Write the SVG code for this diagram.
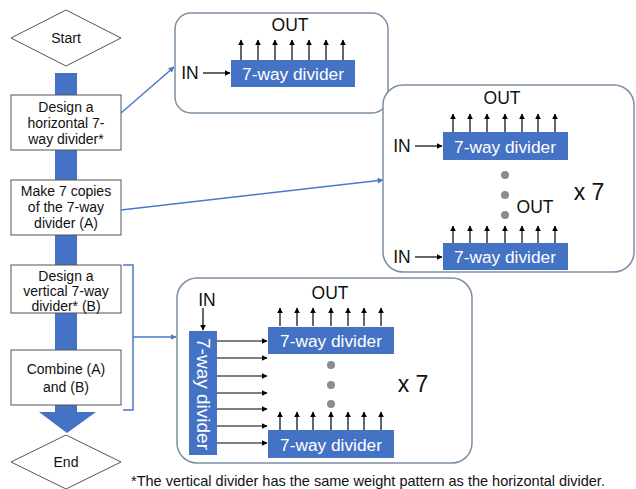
<svg xmlns="http://www.w3.org/2000/svg" width="636" height="489" viewBox="0 0 636 489">
<style>
.t{font-family:"Liberation Sans",Arial,sans-serif;fill:#111;text-anchor:middle;dominant-baseline:central}
.fc{font-size:14px}
.lbl{font-size:17.5px}
.w{font-family:"Liberation Sans",Arial,sans-serif;fill:#fff;font-size:17.3px;text-anchor:middle;dominant-baseline:central}
.box{fill:#fff;stroke:#555;stroke-width:1}
.panel{fill:#fff;stroke:#7d8ea3;stroke-width:1.5}
.blk{fill:#4472C4}
.ar{stroke:#000;stroke-width:1.2;fill:none;marker-end:url(#ah)}
.con{stroke:#4a78c8;stroke-width:1.5;fill:none}
.dot{fill:#8c8c8c}
</style>
<defs>
<marker id="ah" viewBox="0 0 10 10" refX="9" refY="5" markerWidth="5" markerHeight="5" orient="auto"><path d="M0,0 L10,5 L0,10 z" fill="#000"/></marker>
<marker id="ab" viewBox="0 0 10 10" refX="9" refY="5" markerWidth="4" markerHeight="4" orient="auto"><path d="M0,0 L10,5 L0,10 z" fill="#4a78c8"/></marker>
</defs>

<g id="flow-bar">
<rect x="55" y="73" width="22" height="340" class="blk"/>
<polygon points="39,412 96,412 67,433" class="blk"/>
</g>

<g id="start">
<polygon points="11,38 66,10 121,38 66,66" class="box"/>
<text x="66" y="38" class="t fc">Start</text>
</g>
<g id="step1">
<rect x="11" y="95" width="110" height="55" class="box"/>
<text class="t fc"><tspan x="66" y="107">Design a</tspan><tspan x="66" y="123">horizontal 7-</tspan><tspan x="66" y="139">way divider*</tspan></text>
</g>
<g id="step2">
<rect x="11" y="180" width="110" height="55" class="box"/>
<text class="t fc"><tspan x="66" y="191">Make 7 copies</tspan><tspan x="66" y="207">of the 7-way</tspan><tspan x="66" y="223">divider (A)</tspan></text>
</g>
<g id="step3">
<rect x="11" y="265" width="110" height="48" class="box"/>
<text class="t fc"><tspan x="66" y="276">Design a</tspan><tspan x="66" y="291">vertical 7-way</tspan><tspan x="66" y="306">divider* (B)</tspan></text>
</g>
<g id="step4">
<rect x="11" y="350" width="110" height="55" class="box"/>
<text class="t fc"><tspan x="66" y="369">Combine (A)</tspan><tspan x="66" y="387">and (B)</tspan></text>
</g>
<g id="end">
<polygon points="11,462 66,435 121,462 66,489" class="box"/>
<text x="66" y="462" class="t fc">End</text>
</g>

<g id="connectors">
<line x1="121" y1="113" x2="174" y2="67" class="con" marker-end="url(#ab)"/>
<line x1="121" y1="210" x2="383" y2="180" class="con" marker-end="url(#ab)"/>
<polyline points="123,265 133,265 133,410 123,410" class="con"/>
<line x1="133" y1="337" x2="176" y2="337" class="con" marker-end="url(#ab)"/>
</g>

<g id="panel1">
<rect x="175" y="13" width="213" height="100" rx="16" class="panel"/>
<text x="290" y="25" class="t lbl">OUT</text>
<g class="ar">
<line x1="241" y1="60" x2="241" y2="40"/><line x1="258" y1="60" x2="258" y2="40"/><line x1="275" y1="60" x2="275" y2="40"/><line x1="292" y1="60" x2="292" y2="40"/><line x1="309" y1="60" x2="309" y2="40"/><line x1="326" y1="60" x2="326" y2="40"/><line x1="343" y1="60" x2="343" y2="40"/>
<line x1="203" y1="73" x2="230" y2="73"/>
</g>
<rect x="231" y="60" width="124" height="27" class="blk"/>
<text x="293" y="73.5" class="w">7-way divider</text>
<text x="190" y="73" class="t lbl">IN</text>
</g>

<g id="panel2">
<rect x="383" y="85" width="251" height="187" rx="20" class="panel"/>
<text x="502" y="98" class="t lbl">OUT</text>
<g class="ar">
<line x1="453" y1="132" x2="453" y2="114"/><line x1="470" y1="132" x2="470" y2="114"/><line x1="487" y1="132" x2="487" y2="114"/><line x1="505" y1="132" x2="505" y2="114"/><line x1="522" y1="132" x2="522" y2="114"/><line x1="538" y1="132" x2="538" y2="114"/><line x1="555" y1="132" x2="555" y2="114"/>
<line x1="415" y1="146" x2="442" y2="146"/>
<line x1="453" y1="243" x2="453" y2="226"/><line x1="470" y1="243" x2="470" y2="226"/><line x1="487" y1="243" x2="487" y2="226"/><line x1="505" y1="243" x2="505" y2="226"/><line x1="522" y1="243" x2="522" y2="226"/><line x1="538" y1="243" x2="538" y2="226"/><line x1="555" y1="243" x2="555" y2="226"/>
<line x1="415" y1="257" x2="442" y2="257"/>
</g>
<rect x="443" y="132" width="125" height="28" class="blk"/>
<text x="505" y="146.5" class="w">7-way divider</text>
<text x="402" y="146" class="t lbl">IN</text>
<circle cx="505" cy="175" r="4" class="dot"/><circle cx="505" cy="195" r="4" class="dot"/><circle cx="505" cy="215" r="4" class="dot"/>
<text x="535" y="207" class="t lbl">OUT</text>
<text x="589" y="192" class="t" style="font-size:23px">x 7</text>
<rect x="443" y="243" width="125" height="27" class="blk"/>
<text x="505" y="257" class="w">7-way divider</text>
<text x="402" y="257" class="t lbl">IN</text>
</g>

<g id="panel3">
<rect x="177" y="278" width="295" height="185" rx="20" class="panel"/>
<text x="207" y="300" class="t lbl">IN</text>
<text x="330" y="293" class="t lbl">OUT</text>
<g class="ar">
<line x1="203" y1="308" x2="203" y2="330"/>
<line x1="217" y1="341" x2="267" y2="341"/><line x1="217" y1="358" x2="267" y2="358"/><line x1="217" y1="376" x2="267" y2="376"/><line x1="217" y1="393" x2="267" y2="393"/><line x1="217" y1="409" x2="267" y2="409"/><line x1="217" y1="426" x2="267" y2="426"/><line x1="217" y1="443" x2="267" y2="443"/>
<line x1="280" y1="326" x2="280" y2="308"/><line x1="297" y1="326" x2="297" y2="308"/><line x1="313" y1="326" x2="313" y2="308"/><line x1="331" y1="326" x2="331" y2="308"/><line x1="348" y1="326" x2="348" y2="308"/><line x1="364" y1="326" x2="364" y2="308"/><line x1="381" y1="326" x2="381" y2="308"/>
<line x1="280" y1="430" x2="280" y2="412"/><line x1="297" y1="430" x2="297" y2="412"/><line x1="313" y1="430" x2="313" y2="412"/><line x1="331" y1="430" x2="331" y2="412"/><line x1="348" y1="430" x2="348" y2="412"/><line x1="364" y1="430" x2="364" y2="412"/><line x1="381" y1="430" x2="381" y2="412"/>
</g>
<rect x="189" y="331" width="28" height="124" class="blk"/>
<text x="0" y="0" class="w" style="font-size:19px" transform="translate(203,394) rotate(90)">7-way divider</text>
<rect x="268" y="327" width="126" height="27" class="blk"/>
<text x="331" y="340.5" class="w">7-way divider</text>
<circle cx="331" cy="365" r="4" class="dot"/><circle cx="331" cy="385" r="4" class="dot"/><circle cx="331" cy="404" r="4" class="dot"/>
<text x="413" y="384" class="t" style="font-size:23px">x 7</text>
<rect x="268" y="430" width="126" height="28" class="blk"/>
<text x="331" y="444.5" class="w">7-way divider</text>
</g>

<text x="131" y="481" class="t" style="font-size:14.5px;text-anchor:start">*The vertical divider has the same weight pattern as the horizontal divider.</text>
</svg>
